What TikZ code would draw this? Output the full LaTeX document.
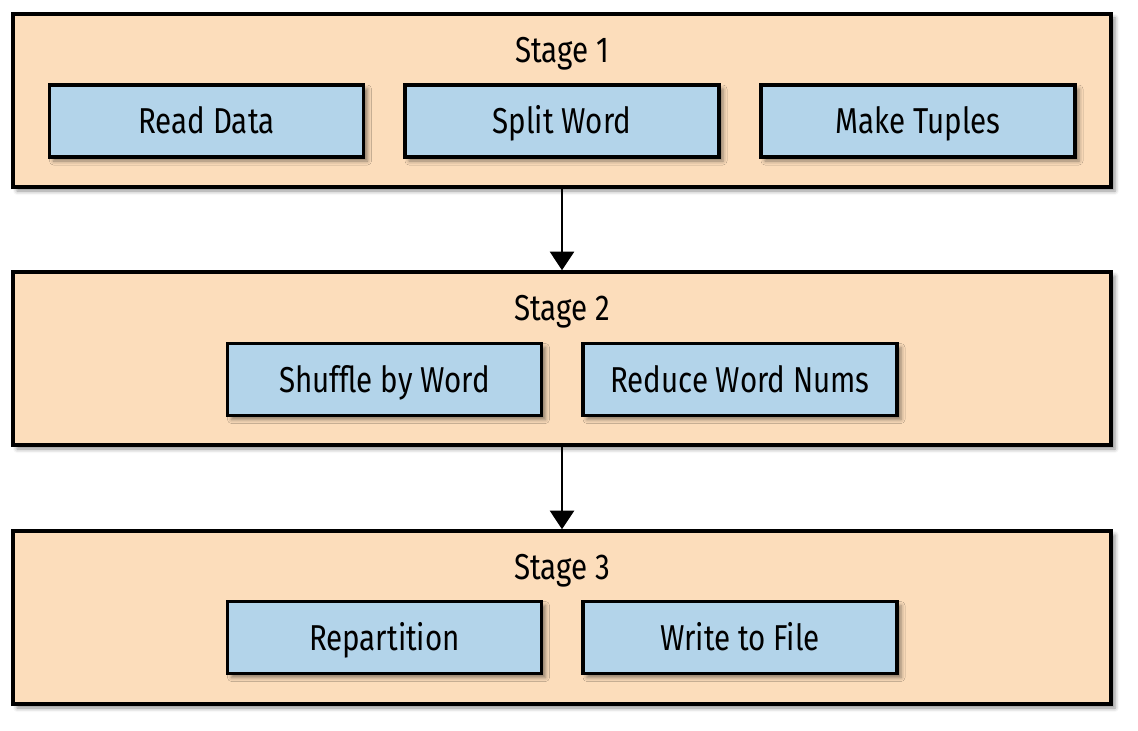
\documentclass[tikz,border=0pt]{standalone}
\usepackage{fontspec}
\setmainfont[FakeStretch=0.82]{Fira Sans}
\usetikzlibrary{shadows.blur,arrows.meta}
\definecolor{stagefill}{HTML}{FCDDBB}
\definecolor{taskfill}{HTML}{B3D4EA}
\tikzset{
  stagebox/.style={draw=black, line width=2.6pt, fill=stagefill, minimum width=823.5pt, minimum height=129.75pt, inner sep=0pt,
    blur shadow={shadow xshift=3pt, shadow yshift=-3pt, shadow blur radius=3pt, shadow opacity=45}},
  taskbox/.style={draw=black, line width=2.6pt, fill=taskfill, minimum width=235.5pt, minimum height=54pt, inner sep=0pt,
    font=\fontsize{27}{30}\selectfont, text height=19pt, text depth=0pt,
    blur shadow={shadow xshift=3pt, shadow yshift=-3pt, shadow blur radius=3pt, shadow opacity=45}},
  stagelabel/.style={font=\fontsize{27}{30}\selectfont, inner sep=0pt, text height=19pt, text depth=0pt},
  flow/.style={line width=2pt, -{Triangle[width=18pt,length=14pt]}}
}
\begin{document}
\begin{tikzpicture}[x=0.75pt,y=-0.75pt]
\useasboundingbox (0,0) rectangle (1138,731);
\node[stagebox] (s1) at (562,100.5) {};
\node[stagebox] (s2) at (562,358.5) {};
\node[stagebox] (s3) at (562,617.5) {};
\node[stagelabel] (l1) at (562,49.5) {Stage 1};
\node[stagelabel] (l2) at (562,307.5) {Stage 2};
\node[stagelabel] (l3) at (562,566.5) {Stage 3};
\node[taskbox] (rd) at (206.5,121) {Read Data};
\node[taskbox] (sw) at (562,121) {Split Word};
\node[taskbox] (mt) at (918,121) {Make Tuples};
\node[taskbox] (sh) at (384.5,379.5) {Shuffle by Word};
\node[taskbox] (rw) at (740,379.5) {Reduce Word Nums};
\node[taskbox] (rp) at (384.5,637.5) {Repartition};
\node[taskbox] (wf) at (740,637.5) {Write to File};
\draw[flow] (s1.south) -- (s2.north);
\draw[flow] (s2.south) -- (s3.north);
\end{tikzpicture}
\end{document}
